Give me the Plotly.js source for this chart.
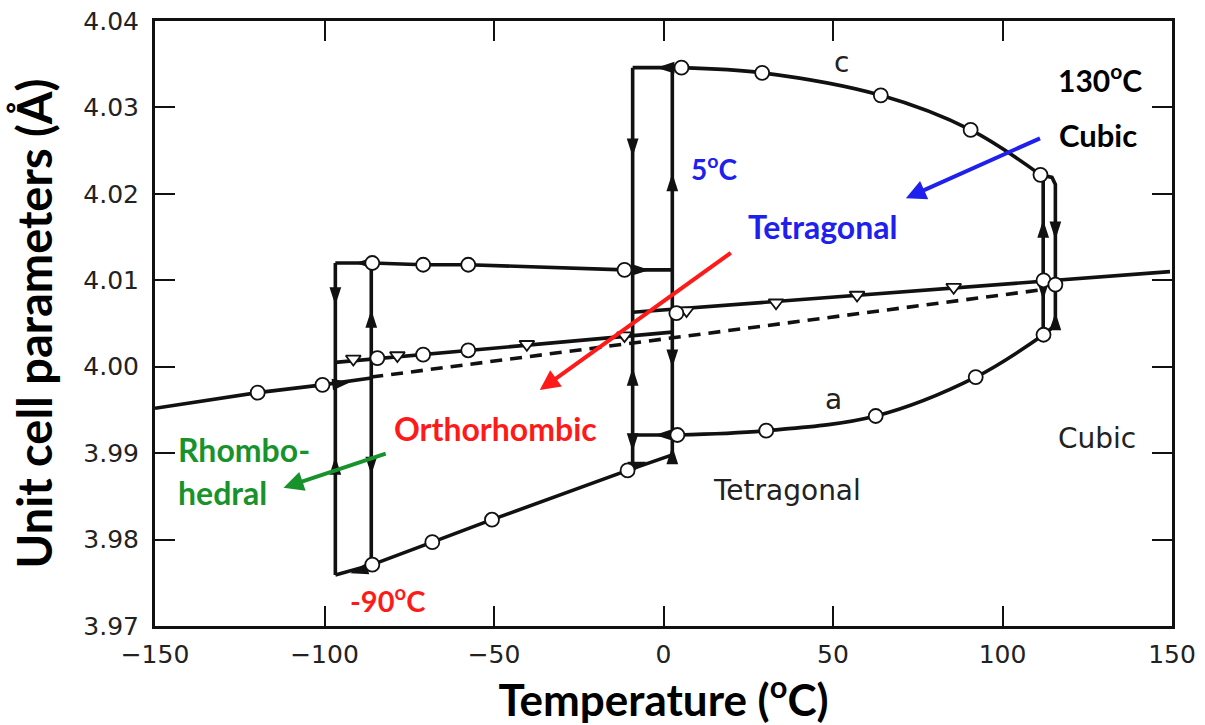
<!DOCTYPE html>
<html>
<head>
<meta charset="utf-8">
<script src="https://cdn.plot.ly/plotly-3.0.1.min.js"></script>
<style>html,body{margin:0;padding:0;background:#fff;}#chart{width:1205px;height:725px;}</style>
</head>
<body>
<div id="chart"></div>
<script>
// ---------- data (temperature in °C, lattice parameter in Å) ----------
// rhombohedral line from the left
const rhomboT = [-150, -119.7, -100.6, -86.2];
const rhomboA = [3.9952, 3.9970, 3.9979, 3.9987];
const rhomboMarkT = [-119.7, -100.6];
const rhomboMarkA = [3.9970, 3.9979];
// dashed extrapolation
const dashT = [-86.2, 111.5];
const dashA = [3.9988, 4.0089];
// pseudo-cubic / cubic line with triangles
const cubT = [-9.1, 149.4];
const cubA = [4.0063, 4.0110];
const cubCircT = [3.8, 112.1, 115.6];
const cubCircA = [4.0062, 4.0100, 4.0095];
const cubTriT = [6.8, 33.2, 57.1, 85.6];
const cubTriA = [4.0065, 4.0074, 4.0083, 4.0092];
// orthorhombic lines
const orthoTopT = [-96.8, -85.9, -70.9, -57.6, -11.5, 2.6];
const orthoTopA = [4.0120, 4.0120, 4.0118, 4.0118, 4.0112, 4.0112];
const orthoMidT = [-96.8, 2.6];
const orthoMidA = [4.0005, 4.0040];
const orthoMidCircT = [-84.4, -70.9, -57.6];
const orthoMidCircA = [4.0010, 4.0014, 4.0019];
const orthoMidTriT = [-91.5, -78.5, -40.3, -11.5];
const orthoMidTriA = [4.0009, 4.0013, 4.0026, 4.0036];
const orthoLowT = [-96.8, -85.9, -68.2, -50.6, -10.6, 2.6];
const orthoLowA = [3.9759, 3.9771, 3.9797, 3.9823, 3.9880, 3.9898];
const orthoTopCircT = [-85.9, -70.9, -57.6, -11.5];
const orthoTopCircA = [4.0120, 4.0118, 4.0118, 4.0112];
const orthoLowCircT = [-85.9, -68.2, -50.6, -10.6];
const orthoLowCircA = [3.9771, 3.9797, 3.9823, 3.9880];
// tetragonal c and a
const cT = [5.3, 29.1, 64.1, 90.6, 111.2];
const cA = [4.0346, 4.0340, 4.0314, 4.0274, 4.0222];
const aT = [4.1, 30.3, 62.6, 92.1, 112.1];
const aA = [3.9921, 3.9926, 3.9943, 3.9988, 4.0037];
// transition segments (null separates pieces)
const segT = [-96.8, -96.8, null, -86.2, -86.2, null, -9.1, -9.1, null, 2.6, 2.6, null,
              -9.1, 5.3, null, -9.1, 4.1, null, 112.0, 112.0, null,
              111.2, 114.6, 115.6, 115.6, 114.6, 112.1];
const segA = [4.0120, 3.9759, null, 4.0120, 3.9771, null, 4.0346, 3.9884, null, 4.0346, 3.9898, null,
              4.0346, 4.0346, null, 3.9921, 3.9921, null, 4.0222, 4.0037, null,
              4.0222, 4.0219, 4.0211, 4.0053, 4.0045, 4.0037];
// arrowheads on the heating/cooling paths: position and direction (deg, clockwise from up)
const arrowT = [-96.8, -96.8, -86.2, -86.2, -9.1, -9.1, -9.1, 2.6, 2.6, 2.6, 112.0, 112.0, 115.6, 115.6,
                -90.9, -2.1, -2.6, -92.4, -92.4, -4.1, -5.0];
const arrowA = [4.0071, 3.9896, 4.0066, 3.9875, 4.0243, 3.9999, 3.9902, 4.0224, 3.9999, 3.9908, 4.0170, 4.0077, 4.0147, 4.0063,
                4.0120, 4.0346, 3.9921, 3.9761, 3.9982, 4.0112, 3.9890];
const arrowDir = [180, 0, 0, 180, 180, 0, 180, 0, 180, 0, 0, 180, 180, 0,
                  270, 270, 270, 255, 83, 90, 72];
// coloured call-out arrows: [tailT, tailA, headT, headA]
const greenArrow = [-81.5, 3.9900, -112.1, 3.9860];
const redArrow = [20.3, 4.0133, -36.5, 3.9973];
const blueArrow = [111.5, 4.0265, 71.5, 4.0195];

const xTickVals = [-150, -100, -50, 0, 50, 100, 150];
const yTickVals = [3.97, 3.98, 3.99, 4.00, 4.01, 4.02, 4.03, 4.04];

const BLK = '#111';
const lineW = 3.6;
const openCircle = {symbol: 'circle', size: 14, color: '#fff', line: {color: BLK, width: 1.8}};
const openTri = {symbol: 'triangle-down', size: 13, color: '#fff', line: {color: BLK, width: 1.8}};

function ln(x, y, extra) {
  return Object.assign({x: x, y: y, type: 'scatter', mode: 'lines', hoverinfo: 'skip',
    line: {color: BLK, width: lineW}, showlegend: false}, extra || {});
}
function mk(x, y, marker) {
  return {x: x, y: y, type: 'scatter', mode: 'markers', marker: marker, hoverinfo: 'skip', showlegend: false, cliponaxis: false};
}

const traces = [
  ln(rhomboT, rhomboA),
  ln(dashT, dashA, {line: {color: BLK, width: lineW, dash: '12px,8px'}}),
  ln(cubT, cubA),
  ln(orthoTopT, orthoTopA),
  ln(orthoMidT, orthoMidA),
  ln(orthoLowT, orthoLowA),
  ln(segT, segA, {connectgaps: false}),
  ln(cT, cA, {line: {color: BLK, width: lineW, shape: 'spline', smoothing: 1}}),
  ln(aT, aA, {line: {color: BLK, width: lineW, shape: 'spline', smoothing: 1}}),
  {x: arrowT, y: arrowA, type: 'scatter', mode: 'markers', hoverinfo: 'skip', showlegend: false,
   marker: {symbol: 'arrow', size: 19, color: BLK, angle: arrowDir, line: {width: 0}}},
  mk(orthoMidTriT, orthoMidTriA, openTri),
  mk(cubTriT, cubTriA, openTri),
  mk(rhomboMarkT, rhomboMarkA, openCircle),
  mk(cubCircT, cubCircA, openCircle),
  mk(orthoMidCircT, orthoMidCircA, openCircle),
  mk(orthoTopCircT, orthoTopCircA, openCircle),
  mk(orthoLowCircT, orthoLowCircA, openCircle),
  mk(cT, cA, openCircle),
  mk(aT, aA, openCircle)
];

const BOLD = 'Lato, "Open Sans", sans-serif';
const PLAIN = '"DejaVu Sans", sans-serif';
const RED = '#ff1a1a', BLUE = '#2020ee', GREEN = '#18932c';

function txt(text, x, y, color, size, family, xanchor) {
  return {text: text, x: x, y: y, xref: 'x', yref: 'y', showarrow: false,
    font: {family: family, size: size, color: color}, xanchor: xanchor || 'center', yanchor: 'middle'};
}
function arr(a, color) {
  return {text: '', x: a[2], y: a[3], ax: a[0], ay: a[1], xref: 'x', yref: 'y', axref: 'x', ayref: 'y',
    showarrow: true, arrowhead: 2, arrowsize: 1, arrowwidth: 4, arrowcolor: color, standoff: 0};
}

const annotations = [
  txt('<b>Rhombo-</b>', -143.8, 3.9904, GREEN, 32, BOLD, 'left'),
  txt('<b>hedral</b>', -143.8, 3.9854, GREEN, 32, BOLD, 'left'),
  txt('<b>Orthorhombic</b>', -49.7, 3.9929, RED, 32, BOLD),
  txt('<b>-90<sup>o</sup>C</b>', -81.5, 3.9731, RED, 29, BOLD),
  txt('<b>5<sup>o</sup>C</b>', 15.0, 4.0230, BLUE, 28, BOLD),
  txt('<b>Tetragonal</b>', 46.8, 4.0162, BLUE, 32, BOLD),
  txt('<b>130<sup>o</sup>C</b>', 128.8, 4.0334, '#000', 30, BOLD),
  txt('<b>Cubic</b>', 128.2, 4.0268, '#000', 31, BOLD),
  txt('c', 52.4, 4.0352, '#222', 28, PLAIN),
  txt('a', 50.0, 3.9962, '#222', 28, PLAIN),
  txt('Tetragonal', 36.5, 3.9857, '#222', 28, PLAIN),
  txt('Cubic', 127.9, 3.9917, '#222', 28, PLAIN),
  arr(greenArrow, GREEN),
  arr(redArrow, RED),
  arr(blueArrow, BLUE)
];

const axisCommon = {
  showline: true, linecolor: BLK, linewidth: 3, mirror: 'ticks',
  ticks: 'inside', ticklen: 20, tickwidth: 2, tickcolor: BLK,
  showgrid: false, zeroline: false,
  tickfont: {family: PLAIN, size: 25, color: '#222'}
};

const layout = {
  width: 1205, height: 725,
  margin: {l: 155, r: 33, t: 21, b: 99},
  paper_bgcolor: '#fff', plot_bgcolor: '#fff',
  showlegend: false,
  xaxis: Object.assign({}, axisCommon, {
    range: [-150, 150], tickvals: xTickVals,
    ticklabelstandoff: 4,
    title: {text: '<b>Temperature (<sup>o</sup>C)</b>', font: {family: BOLD, size: 44, color: '#000'}, standoff: 13}
  }),
  yaxis: Object.assign({}, axisCommon, {
    range: [3.97, 4.04], tickvals: yTickVals, tickformat: '.2f',
    ticklabelstandoff: 8,
    title: {text: '<b>Unit cell parameters (Å)</b>', font: {family: BOLD, size: 47, color: '#000'}, standoff: 16}
  }),
  annotations: annotations
};

Plotly.newPlot('chart', traces, layout, {staticPlot: true, displayModeBar: false});
</script>
</body>
</html>
